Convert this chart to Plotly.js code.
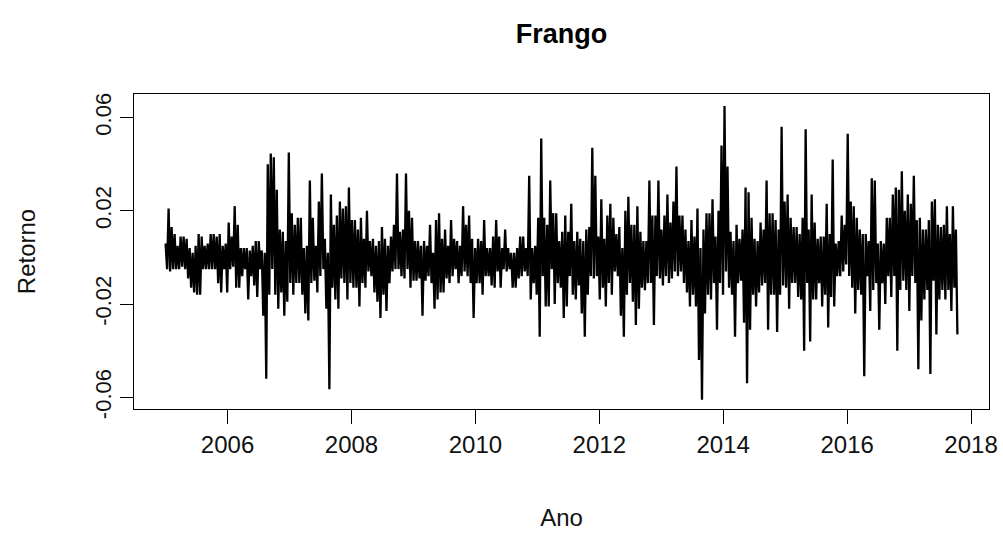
<!DOCTYPE html>
<html>
<head>
<meta charset="utf-8">
<script src="https://cdn.plot.ly/plotly-3.0.1.min.js"></script>
<style>
  html, body { margin: 0; padding: 0; background: #ffffff; }
  #chart { width: 1003px; height: 539px; }
</style>
</head>
<body>
<div id="chart"></div>
<script>
// Daily returns of "Frango" (each pair = local high, local low)
const startYear = 2005.0;
const endYear = 2017.78;

const ret2005to2007 = [
  0.006, -0.005, 0.021, -0.006, 0.013, -0.005, 0.010, -0.005, 0.005, -0.005,
  0.009, -0.004, 0.009, -0.005, 0.008, -0.009, 0.004, -0.013, 0.002, -0.015,
  0.005, -0.016, 0.010, -0.016, 0.009, -0.005, 0.005, -0.005, 0.006, -0.005,
  0.010, -0.005, 0.010, -0.005, 0.009, -0.011, 0.010, -0.015, 0.005, -0.005,
  0.006, -0.015, 0.015, -0.005, 0.009, -0.004, 0.022, -0.013, 0.014, -0.013,
  0.004, -0.008, 0.004, -0.005, 0.004, -0.018, 0.003, -0.008, 0.005, -0.012,
  0.007, -0.017, 0.007, -0.005, 0.003, -0.025, 0.002, -0.052, 0.040, -0.016,
  0.0446, -0.005, 0.043, -0.016, 0.029, -0.022, 0.012, -0.015, 0.011, -0.025,
  0.007, -0.019, 0.045, -0.011, 0.019, -0.016, 0.014, -0.011
];

const ret2007to2009 = [
  0.017, -0.011, 0.017, -0.016, 0.004, -0.024, 0.005, -0.027, 0.033, -0.011,
  0.017, -0.010, 0.005, -0.015, 0.024, -0.008, 0.036, -0.005, 0.008, -0.022,
  0.002, -0.0565, 0.027, -0.013, 0.014, -0.018, 0.018, -0.022, 0.024, -0.009,
  0.021, -0.011, 0.022, -0.018, 0.030, -0.011, 0.016, -0.013, 0.016, -0.013,
  0.012, -0.021, 0.017, -0.011, 0.008, -0.013, 0.020, -0.006, 0.007, -0.008,
  0.008, -0.015, 0.005, -0.019, 0.007, -0.026, 0.013, -0.016, 0.008, -0.023,
  0.005, -0.011, 0.009, -0.006, 0.014, -0.005, 0.036, -0.005, 0.011, -0.008,
  0.012, -0.009, 0.036, -0.005, 0.020, -0.013, 0.017, -0.010, 0.007, -0.010,
  0.007, -0.009, 0.005, -0.025, 0.007, -0.010, 0.005, -0.008
];

const ret2009to2011 = [
  0.014, -0.011, 0.002, -0.022, 0.016, -0.018, 0.019, -0.015, 0.008, -0.015,
  0.012, -0.009, 0.005, -0.011, 0.016, -0.008, 0.008, -0.005, 0.007, -0.011,
  0.005, -0.008, 0.022, -0.006, 0.014, -0.008, 0.018, -0.011, 0.008, -0.026,
  0.004, -0.011, 0.008, -0.011, 0.007, -0.016, 0.016, -0.008, 0.004, -0.008,
  0.004, -0.012, 0.009, -0.013, 0.016, -0.006, 0.009, -0.013, 0.004, -0.005,
  0.012, -0.006, 0.004, -0.005, 0.002, -0.013, 0.002, -0.013, 0.004, -0.009,
  0.009, -0.008, 0.009, -0.006, 0.004, -0.008, 0.035, -0.018, 0.004, -0.011,
  0.005, -0.016, 0.017, -0.034, 0.051, -0.008, 0.017, -0.021, 0.014, -0.021,
  0.033, -0.005, 0.019, -0.020, 0.019, -0.011, 0.007, -0.013
];

const ret2011to2013 = [
  0.011, -0.026, 0.018, -0.021, 0.011, -0.008, 0.023, -0.016, 0.007, -0.018,
  0.011, -0.012, 0.008, -0.024, 0.007, -0.034, 0.012, -0.016, 0.013, -0.008,
  0.047, -0.009, 0.035, -0.008, 0.009, -0.018, 0.025, -0.013, 0.008, -0.021,
  0.018, -0.011, 0.023, -0.016, 0.017, -0.006, 0.010, -0.008, 0.013, -0.025,
  0.004, -0.034, 0.020, -0.016, 0.026, -0.011, 0.014, -0.019, 0.014, -0.029,
  0.022, -0.022, 0.011, -0.013, 0.007, -0.014, 0.007, -0.011, 0.033, -0.011,
  0.018, -0.029, 0.018, -0.008, 0.033, -0.009, 0.012, -0.012, 0.018, -0.008,
  0.027, -0.011, 0.015, -0.009, 0.024, -0.006, 0.039, -0.008, 0.018, -0.006,
  0.018, -0.011, 0.012, -0.015, 0.007, -0.021, 0.016, -0.016
];

const ret2013to2015 = [
  0.009, -0.021, 0.021, -0.044, 0.004, -0.061, 0.012, -0.024, 0.019, -0.016,
  0.019, -0.018, 0.025, -0.011, 0.009, -0.031, 0.020, -0.011, 0.048, -0.016,
  0.065, -0.006, 0.039, -0.013, 0.011, -0.016, 0.007, -0.034, 0.014, -0.011,
  0.008, -0.010, 0.012, -0.028, 0.030, -0.054, 0.028, -0.031, 0.017, -0.016,
  0.008, -0.021, 0.007, -0.015, 0.015, -0.012, 0.012, -0.011, 0.033, -0.031,
  0.019, -0.016, 0.019, -0.016, 0.016, -0.032, 0.012, -0.016, 0.056, -0.012,
  0.024, -0.013, 0.027, -0.022, 0.017, -0.011, 0.013, -0.011, 0.013, -0.017,
  0.010, -0.018, 0.017, -0.040, 0.055, -0.011, 0.012, -0.036, 0.027, -0.018,
  0.015, -0.018, 0.008, -0.011, 0.009, -0.021, 0.009, -0.016
];

const ret2015to2017 = [
  0.023, -0.030, 0.010, -0.017, 0.042, -0.021, 0.006, -0.008, 0.007, -0.008,
  0.018, -0.006, 0.014, -0.003, 0.053, -0.008, 0.024, -0.013, 0.022, -0.024,
  0.017, -0.014, 0.012, -0.016, 0.010, -0.051, 0.010, -0.008, 0.007, -0.023,
  0.034, -0.014, 0.033, -0.011, 0.006, -0.031, 0.007, -0.011, 0.006, -0.020,
  0.017, -0.008, 0.017, -0.017, 0.027, -0.008, 0.030, -0.040, 0.029, -0.014,
  0.037, -0.010, 0.020, -0.014, 0.027, -0.023, 0.023, -0.008, 0.035, -0.011,
  0.016, -0.048, 0.017, -0.027, 0.012, -0.018, 0.012, -0.014, 0.016, -0.050,
  0.024, -0.010, 0.025, -0.033, 0.014, -0.018, 0.013, -0.014, 0.014, -0.018,
  0.022, -0.014, 0.010, -0.023, 0.022, -0.013, 0.012, -0.033
];

const xTickVals = [2006, 2008, 2010, 2012, 2014, 2016, 2018];
const xTickText = ['2006', '2008', '2010', '2012', '2014', '2016', '2018'];
const yTickVals = [-0.06, -0.02, 0.02, 0.06];
const yTickText = ['-0.06', '-0.02', '0.02', '0.06'];

const returns = [].concat(ret2005to2007, ret2007to2009, ret2009to2011,
                          ret2011to2013, ret2013to2015, ret2015to2017);
// regular time index, like an R ts object
const n = returns.length;
const dt = (endYear - startYear) / (n - 1);
const time = returns.map((_, i) => startYear + i * dt);

const FONT = 'Liberation Sans, Arial, Helvetica, sans-serif';
const TXT = '#111111';

const trace = {
  x: time,
  y: returns,
  type: 'scatter',
  mode: 'lines',
  line: { color: '#000000', width: 2.3 },
  hoverinfo: 'skip'
};

const layout = {
  width: 1003,
  height: 539,
  paper_bgcolor: '#ffffff',
  plot_bgcolor: '#ffffff',
  margin: { l: 134, r: 14, t: 94, b: 130 },
  showlegend: false,
  font: { family: FONT, color: TXT, size: 23 },
  title: {
    text: '<b>Frango</b>',
    font: { family: FONT, size: 27, color: '#000000' },
    xref: 'paper', x: 0.5, xanchor: 'center',
    yref: 'container', y: 0.937, yanchor: 'middle'
  },
  xaxis: {
    range: [2004.49, 2018.29],
    tickmode: 'array',
    tickvals: xTickVals,
    ticktext: xTickText,
    ticks: 'outside', ticklen: 14, tickwidth: 1, tickcolor: '#000',
    showline: true, linecolor: '#000', linewidth: 1, mirror: true,
    showgrid: false, zeroline: false,
    tickfont: { family: FONT, size: 24, color: TXT },
    title: { text: 'Ano', font: { family: FONT, size: 24, color: TXT }, standoff: 52 }
  },
  yaxis: {
    range: [-0.0650, 0.0701],
    tickmode: 'array',
    tickvals: yTickVals,
    ticktext: yTickText,
    tickangle: -90,
    ticks: 'outside', ticklen: 13, tickwidth: 1, tickcolor: '#000',
    showline: true, linecolor: '#000', linewidth: 1, mirror: true,
    showgrid: false, zeroline: false,
    tickfont: { family: FONT, size: 22, color: TXT },
    title: { text: 'Retorno', font: { family: FONT, size: 24, color: TXT }, standoff: 48 }
  }
};

Plotly.newPlot('chart', [trace], layout, { displayModeBar: false, staticPlot: true });
</script>
</body>
</html>
